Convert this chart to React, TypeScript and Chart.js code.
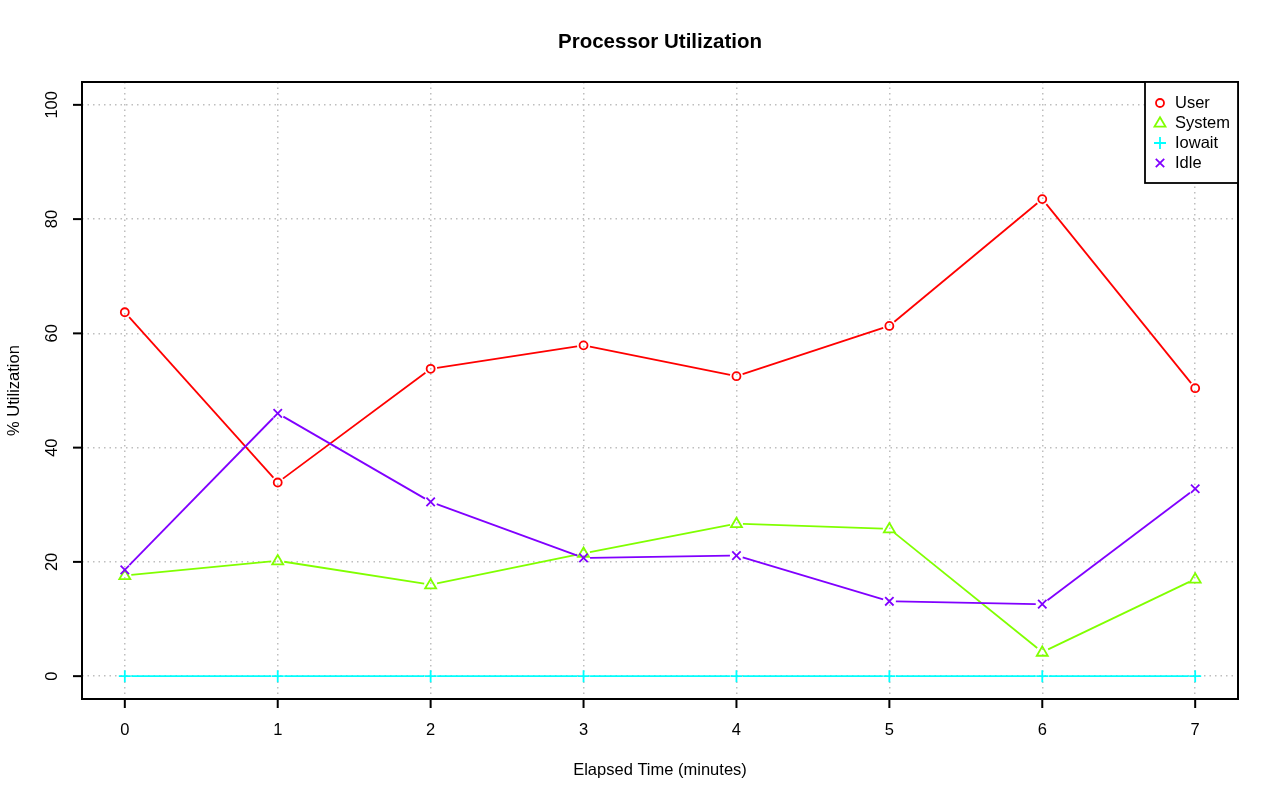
import React, { useEffect, useRef } from "react";
import { Chart, registerables } from "chart.js";

Chart.register(...registerables);

const minutes = [0, 1, 2, 3, 4, 5, 6, 7];
const userValues = [63.7, 33.9, 53.8, 57.9, 52.5, 61.3, 83.5, 50.4];
const systemValues = [17.6, 20.2, 16.0, 21.5, 26.7, 25.8, 4.2, 17.0];
const iowaitValues = [0, 0, 0, 0, 0, 0, 0, 0];
const idleValues = [18.6, 46.0, 30.5, 20.7, 21.1, 13.1, 12.6, 32.8];
const seriesNames = ["User", "System", "Iowait", "Idle"];
const seriesColors = ["#FF0000", "#80FF00", "#00FFFF", "#8000FF"];
const seriesMarkers = ["circle", "triangle", "cross", "crossRot"];
const yTickValues = [0, 20, 40, 60, 80, 100];
const xTickValues = [0, 1, 2, 3, 4, 5, 6, 7];
const titleText = "Processor Utilization";
const xTitle = "Elapsed Time (minutes)";
const yTitle = "% Utilization";

const FONT = "'Liberation Sans', Arial, Helvetica, sans-serif";

function drawMarker(ctx: CanvasRenderingContext2D, kind: string, x: number, y: number, color: string) {
  ctx.save();
  ctx.strokeStyle = color;
  ctx.lineWidth = 1.8;
  ctx.beginPath();
  const r = 4.2;
  if (kind === "circle") {
    ctx.arc(x, y, 4, 0, Math.PI * 2);
  } else if (kind === "triangle") {
    ctx.moveTo(x, y - 5.8);
    ctx.lineTo(x + 5.5, y + 3.6);
    ctx.lineTo(x - 5.5, y + 3.6);
    ctx.closePath();
  } else if (kind === "cross") {
    ctx.moveTo(x - 6, y);
    ctx.lineTo(x + 6, y);
    ctx.moveTo(x, y - 6);
    ctx.lineTo(x, y + 6);
  } else {
    ctx.moveTo(x - r, y - r);
    ctx.lineTo(x + r, y + r);
    ctx.moveTo(x - r, y + r);
    ctx.lineTo(x + r, y - r);
  }
  ctx.stroke();
  ctx.restore();
}

const rPlotPlugin = {
  id: "rPlot",
  afterDatasetsDraw(chart: any) {
    const ctx: CanvasRenderingContext2D = chart.ctx;
    const area = chart.chartArea;
    const xs = chart.scales.x;
    const ys = chart.scales.y;
    chart.data.datasets.forEach((ds: any, i: number) => {
      const meta = chart.getDatasetMeta(i);
      const pts = meta.data;
      ctx.save();
      ctx.strokeStyle = seriesColors[i];
      ctx.lineWidth = 1.8;
      const gap = 6.5;
      for (let k = 0; k < pts.length - 1; k++) {
        const a = pts[k], b = pts[k + 1];
        const dx = b.x - a.x, dy = b.y - a.y;
        const len = Math.hypot(dx, dy);
        if (len <= gap * 2) continue;
        const ux = dx / len, uy = dy / len;
        ctx.beginPath();
        ctx.moveTo(a.x + ux * gap, a.y + uy * gap);
        ctx.lineTo(b.x - ux * gap, b.y - uy * gap);
        ctx.stroke();
      }
      ctx.restore();
      pts.forEach((p: any) => drawMarker(ctx, seriesMarkers[i], p.x, p.y, seriesColors[i]));
    });

    ctx.save();
    ctx.strokeStyle = "#000";
    ctx.lineWidth = 2;
    ctx.strokeRect(area.left, area.top, area.right - area.left, area.bottom - area.top);
    ctx.lineWidth = 2;
    ctx.fillStyle = "#000";
    ctx.font = `16.5px ${FONT}`;
    ctx.textAlign = "center";
    ctx.textBaseline = "middle";
    xTickValues.forEach((v) => {
      const px = xs.getPixelForValue(v);
      ctx.beginPath();
      ctx.moveTo(px, area.bottom);
      ctx.lineTo(px, area.bottom + 9);
      ctx.stroke();
      ctx.fillText(String(v), px, 730);
    });
    yTickValues.forEach((v) => {
      const py = ys.getPixelForValue(v);
      ctx.beginPath();
      ctx.moveTo(area.left, py);
      ctx.lineTo(area.left - 9, py);
      ctx.stroke();
      ctx.save();
      ctx.translate(52, py);
      ctx.rotate(-Math.PI / 2);
      ctx.fillText(String(v), 0, 0);
      ctx.restore();
    });
    ctx.fillText(xTitle, (area.left + area.right) / 2, 770);
    ctx.save();
    ctx.translate(14, (area.top + area.bottom) / 2);
    ctx.rotate(-Math.PI / 2);
    ctx.fillText(yTitle, 0, 0);
    ctx.restore();
    ctx.font = `bold 20.5px ${FONT}`;
    ctx.fillText(titleText, (area.left + area.right) / 2, 42);

    const lx0 = 1145, ly0 = area.top, lw = area.right - 1145, lh = 101;
    ctx.fillStyle = "#fff";
    ctx.fillRect(lx0, ly0, lw, lh);
    ctx.strokeStyle = "#000";
    ctx.lineWidth = 1.8;
    ctx.strokeRect(lx0, ly0, lw, lh);
    ctx.font = `16.5px ${FONT}`;
    ctx.textAlign = "left";
    seriesNames.forEach((name, i) => {
      const yy = 103 + i * 20;
      drawMarker(ctx, seriesMarkers[i], 1160, yy, seriesColors[i]);
      ctx.fillStyle = "#000";
      ctx.fillText(name, 1175, yy);
    });
    ctx.restore();
  },
};

export default function App() {
  const ref = useRef<HTMLCanvasElement | null>(null);
  useEffect(() => {
    document.body.style.margin = "0";
    const mk = (vals: number[], i: number) => ({
      label: seriesNames[i],
      data: vals,
      borderColor: seriesColors[i],
      backgroundColor: seriesColors[i],
      showLine: false,
      pointRadius: 0,
      pointHoverRadius: 0,
    });
    const chart = new Chart(ref.current as HTMLCanvasElement, {
      type: "line",
      data: {
        labels: minutes,
        datasets: [
          mk(userValues, 0),
          mk(systemValues, 1),
          mk(iowaitValues, 2),
          mk(idleValues, 3),
        ],
      } as any,
      options: {
        animation: false,
        responsive: false,
        maintainAspectRatio: false,
        layout: { padding: { top: 82, right: 42, left: 0, bottom: 0 } },
        plugins: { legend: { display: false }, title: { display: false }, tooltip: { enabled: false } },
        scales: {
          x: {
            type: "linear",
            min: -0.28,
            max: 7.28,
            afterFit: (s: any) => { s.height = 102; },
            afterBuildTicks: (s: any) => { s.ticks = xTickValues.map((v) => ({ value: v })); },
            ticks: { display: false },
            grid: { color: "#BEBEBE", lineWidth: 1.5, drawTicks: false },
            border: { display: false, dash: [1.5, 4] },
          },
          y: {
            type: "linear",
            min: -4,
            max: 104,
            afterFit: (s: any) => { s.width = 82; },
            afterBuildTicks: (s: any) => { s.ticks = yTickValues.map((v) => ({ value: v })); },
            ticks: { display: false },
            grid: { color: "#BEBEBE", lineWidth: 1.5, drawTicks: false },
            border: { display: false, dash: [1.5, 4] },
          },
        },
      } as any,
      plugins: [rPlotPlugin],
    });
    return () => chart.destroy();
  }, []);
  return (
    <div style={{ position: "absolute", left: 0, top: 0, width: 1280, height: 801, background: "#fff" }}>
      <canvas ref={ref} width={1280} height={801} style={{ width: 1280, height: 801, display: "block" }} />
    </div>
  );
}
